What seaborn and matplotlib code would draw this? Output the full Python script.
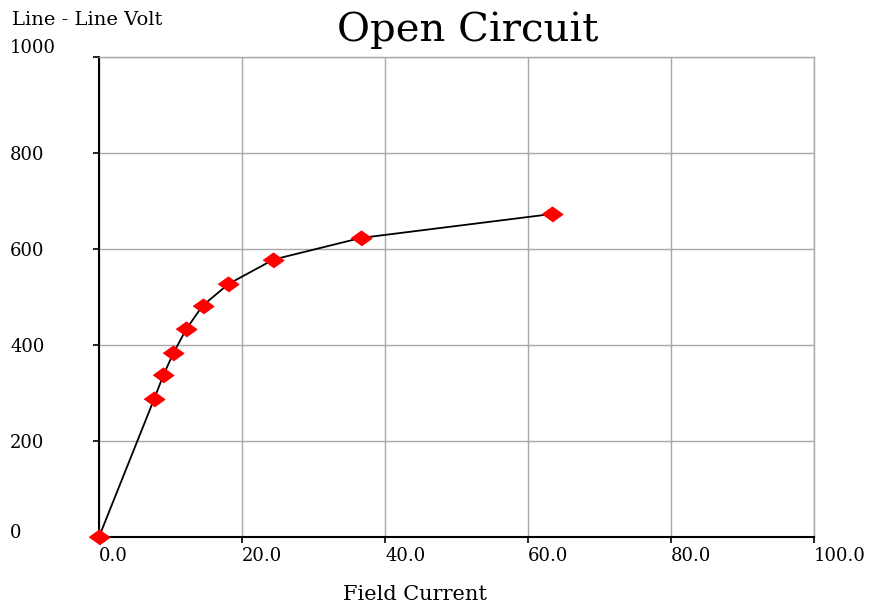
import pandas as pd
import seaborn as sns
import matplotlib.pyplot as plt
from matplotlib.transforms import ScaledTranslation

# open circuit test: field current vs line-line voltage
field_current = [0, 7.7, 9.0, 10.4, 12.2, 14.5, 18.1, 24.4, 36.6, 63.4]
line_volt = [0, 287, 337, 383, 433, 482, 527, 578, 623, 673]
x_ticks = [0, 20, 40, 60, 80, 100]
x_ticklabels = ["0.0", "20.0", "40.0", "60.0", "80.0", "100.0"]
y_ticks = [0, 200, 400, 600, 800, 1000]
y_ticklabels = ["0", "200", "400", "600", "800", "1000"]

df = pd.DataFrame({"Field Current": field_current, "Line - Line Volt": line_volt})

sns.set_style("white")
plt.rcParams["font.family"] = ["DejaVu Serif"]
plt.rcParams["text.color"] = "black"
plt.rcParams["xtick.color"] = "black"
plt.rcParams["ytick.color"] = "black"

W, H = 882, 608
fig = plt.figure(figsize=(W / 100, H / 100), dpi=100)
ax = fig.add_axes([99 / W, 1 - 537 / H, 715 / W, 480 / H])

diamond = [(-1, 0), (0, 0.72), (1, 0), (0, -0.72)]
sns.lineplot(data=df, x="Field Current", y="Line - Line Volt", ax=ax, sort=False,
             color="black", lw=1.3, marker=diamond, markersize=15,
             markerfacecolor="red", markeredgecolor="red", clip_on=False, zorder=5)

ax.set_xlim(0, 100)
ax.set_ylim(0, 1000)
ax.set_xticks(x_ticks)
ax.set_xticklabels(x_ticklabels, ha="left", fontsize=13, color="black")
ax.set_yticks(y_ticks)
ax.set_yticklabels(y_ticklabels, ha="left", fontsize=13, color="black")
ax.set_xlabel("")
ax.set_ylabel("")

ax.grid(True, color="#a8a8a8", lw=1)
ax.set_axisbelow(True)
for s in ["top", "right"]:
    ax.spines[s].set_color("#a8a8a8")
    ax.spines[s].set_linewidth(1)
for s in ["left", "bottom"]:
    ax.spines[s].set_color("black")
    ax.spines[s].set_linewidth(1.5)

ax.tick_params(axis="x", direction="out", length=4, width=1.2, color="black", pad=3)
ax.tick_params(axis="y", direction="out", length=4, width=1.2, color="black", pad=60)
ax.tick_params(left=True, bottom=True)

# top and bottom y labels sit a bit inside the axis range
labs = ax.get_yticklabels()
labs[0].set_transform(labs[0].get_transform() + ScaledTranslation(0, 6 / 100, fig.dpi_scale_trans))
labs[-1].set_transform(labs[-1].get_transform() + ScaledTranslation(0, 11 / 100, fig.dpi_scale_trans))

fig.text(12 / W, 1 - 25 / H, "Line - Line Volt", fontsize=14, ha="left", va="baseline", color="black")
fig.text(468 / W, 1 - 41 / H, "Open Circuit", fontsize=29, ha="center", va="baseline", color="black")
fig.text(415 / W, 1 - 600 / H, "Field Current", fontsize=15, ha="center", va="baseline", color="black")

plt.savefig("out.png", dpi=100)
